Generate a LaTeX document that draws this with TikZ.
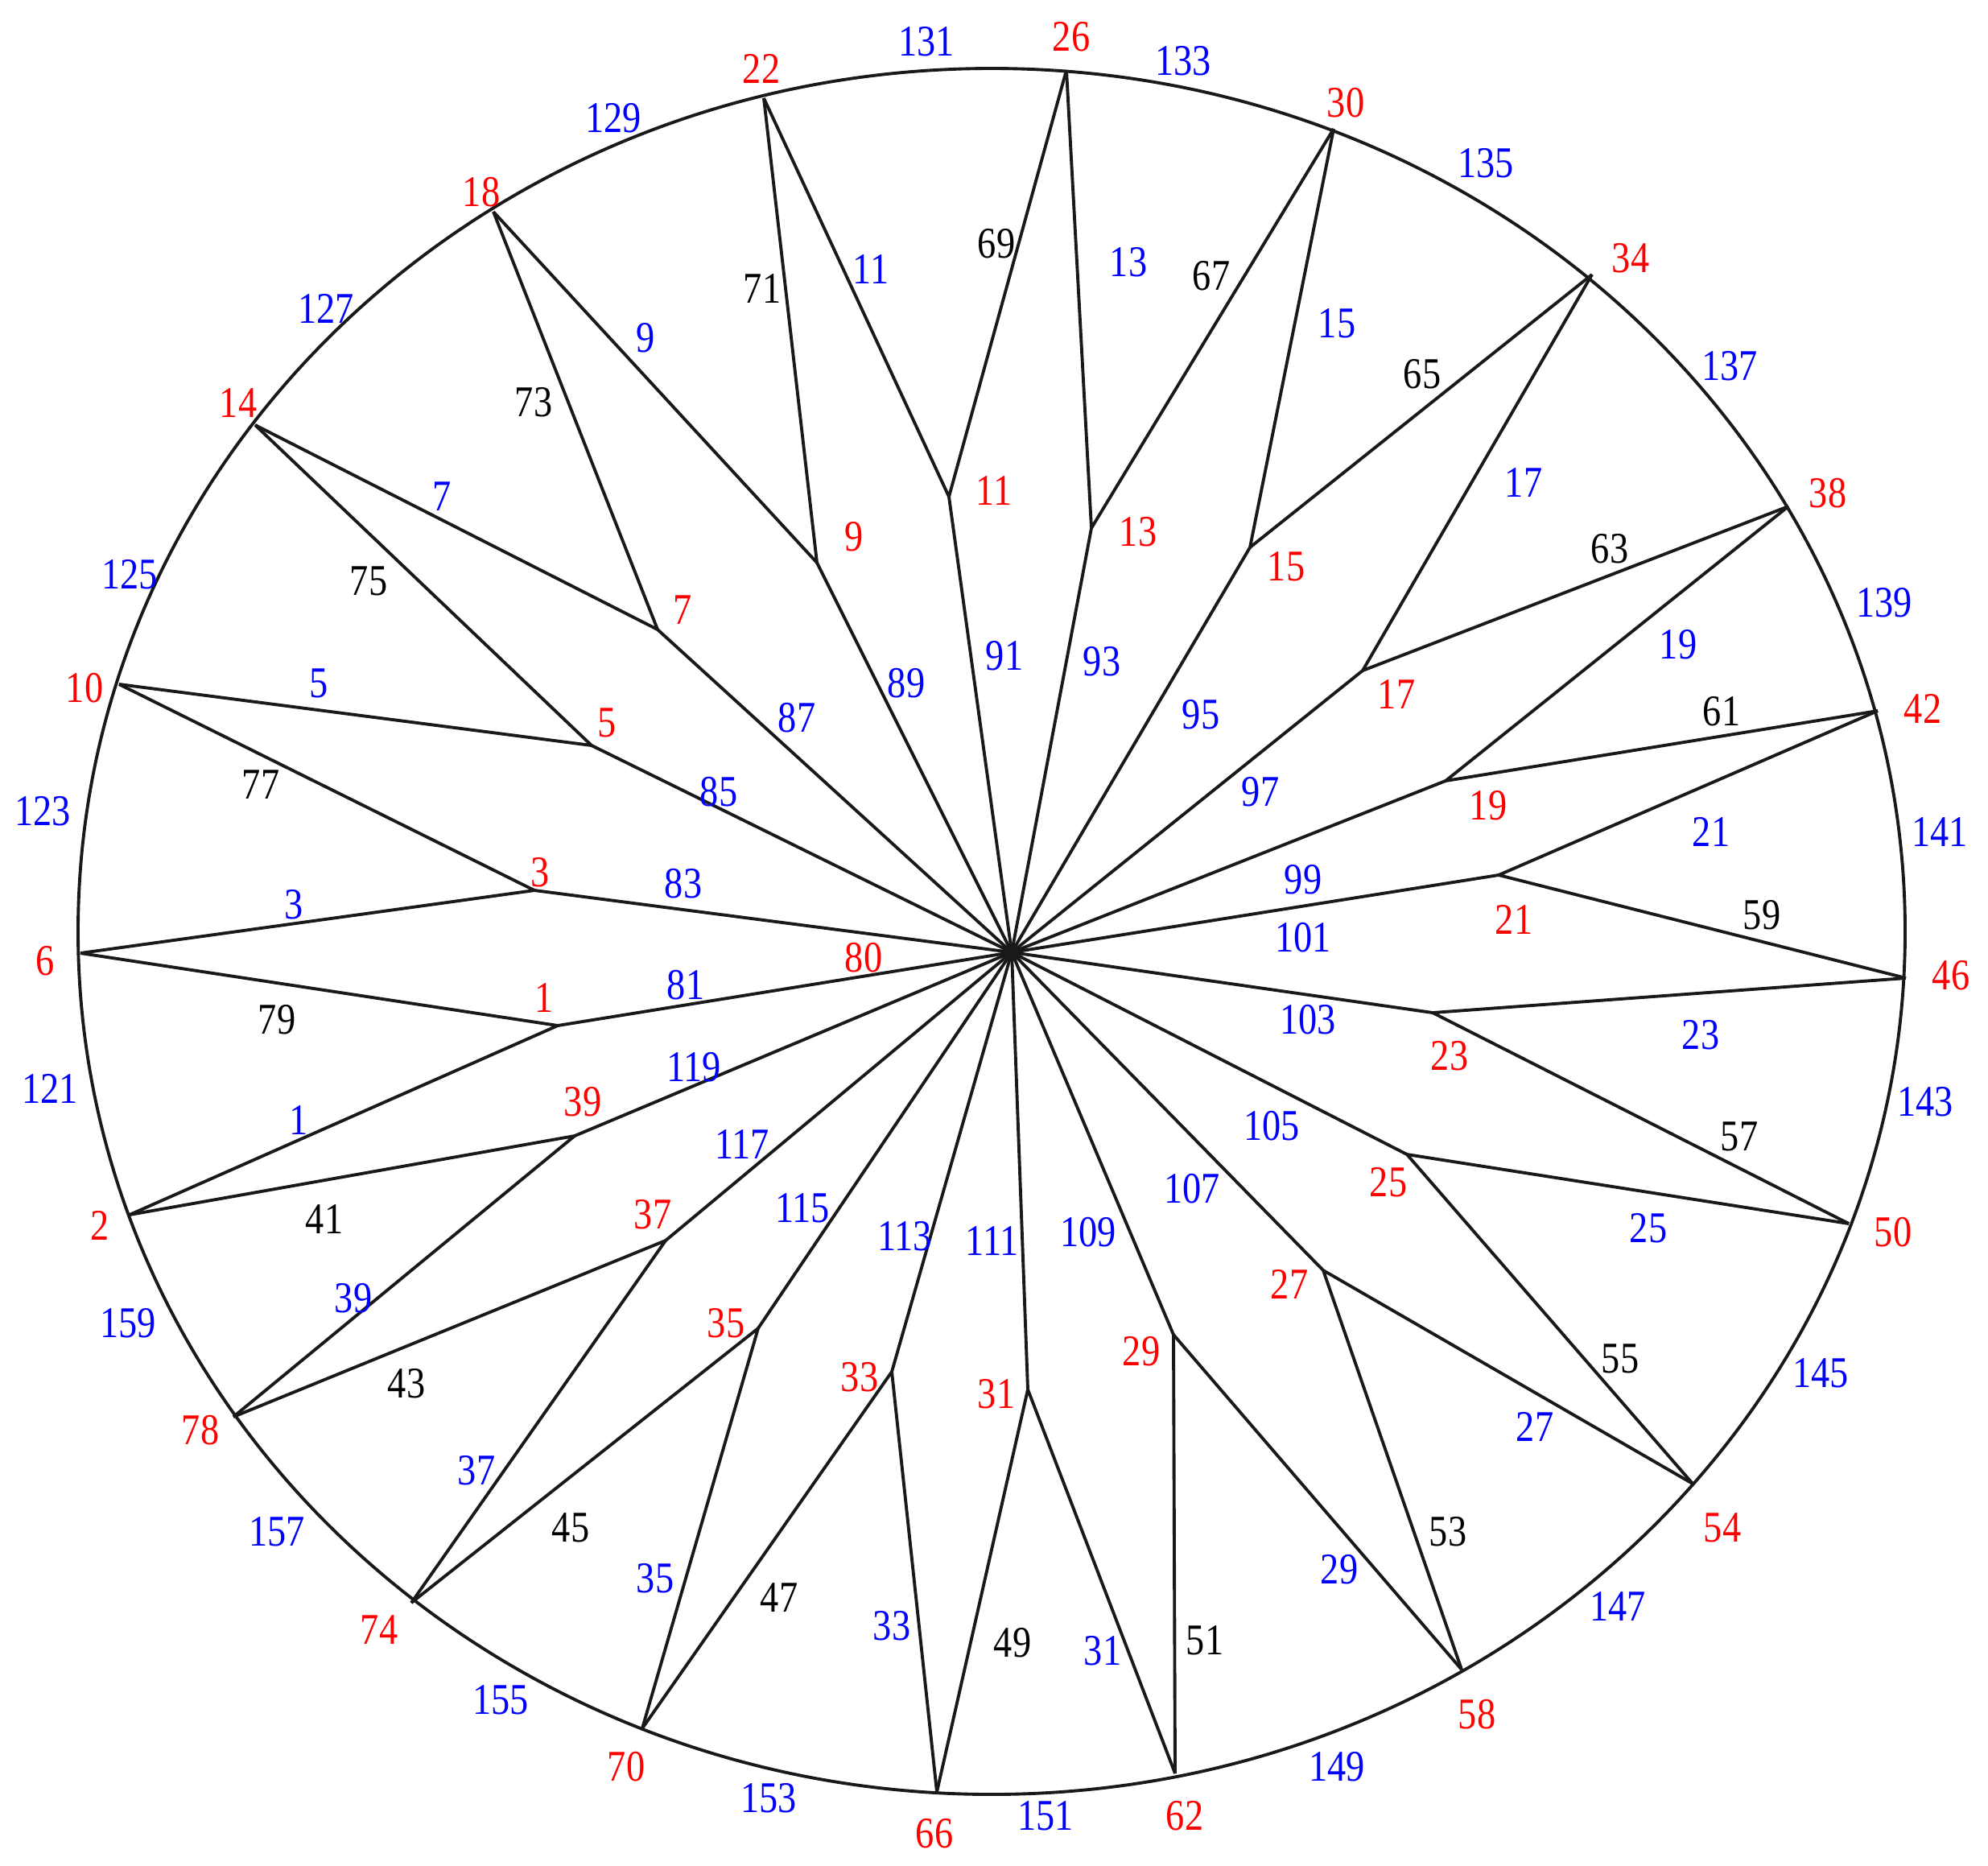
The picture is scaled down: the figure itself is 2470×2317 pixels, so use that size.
\documentclass[tikz,border=0pt]{standalone}
\usepackage{fontspec}
\setmainfont{Liberation Serif}[FakeStretch=0.85]

\tikzstyle{vtx} = [inner sep=0pt, text=red]
\tikzstyle{blab} = [inner sep=0pt, text=blue]
\tikzstyle{klab} = [inner sep=0pt, text=black]
\tikzstyle{edge} = [draw=black!90, line width=1.1pt]

\begin{document}
\begin{tikzpicture}[x=0.01cm,y=-0.01cm,font=\fontsize{15.5}{18}\selectfont]
            \useasboundingbox (0,0) rectangle (2470,2317);
            %
            % We start by placing the vertices
            \coordinate (c) at (1257,1183);
            \foreach \nm/\x/\y in {2/161/1509, 6/100/1184, 10/148/850, 14/317/528, 18/613/263,
                22/949/122, 26/1325/87, 30/1657/160, 34/1978/341, 38/2222/629,
                42/2333/883, 46/2368/1215, 50/2297/1520, 54/2103/1843, 58/1816/2074,
                62/1460/2203, 66/1164/2226, 70/798/2147, 74/511/1991, 78/290/1760}
                \coordinate (o\nm) at (\x,\y);
            \foreach \nm/\x/\y in {1/693/1274, 3/664/1106, 5/735/926, 7/817/782, 9/1015/699,
                11/1179/617, 13/1356/656, 15/1553/680, 17/1693/833, 19/1796/970,
                21/1862/1087, 23/1780/1258, 25/1748/1434, 27/1644/1578, 29/1458/1658,
                31/1277/1726, 33/1108/1704, 35/942/1650, 37/827/1541, 39/714/1411}
                \coordinate (i\nm) at (\x,\y);
            %
            % The outer ring, the spokes and the zigzag
            \draw[edge] (1232,1157) ellipse [x radius=1135, y radius=1072];
            \foreach \k in {1,3,...,39}
                \draw[edge] (c) -- (i\k);
            \foreach \k/\a/\b in {1/2/6, 3/6/10, 5/10/14, 7/14/18, 9/18/22, 11/22/26, 13/26/30,
                15/30/34, 17/34/38, 19/38/42, 21/42/46, 23/46/50, 25/50/54, 27/54/58,
                29/58/62, 31/62/66, 33/66/70, 35/70/74, 37/74/78, 39/78/2}
                \draw[edge] (o\a) -- (i\k) -- (o\b);
            %
            % Vertex numbers
            \node[vtx] (r80) at (1073,1190) {80};
            \foreach \nm/\x/\y in {2/124/1522, 6/56/1194, 10/105/855, 14/296/500, 18/598/239,
                22/946/85, 26/1331/46, 30/1672/128, 34/2026/321, 38/2271/613,
                42/2389/880, 46/2424/1212, 50/2352/1531, 54/2140/1898, 58/1835/2130,
                62/1472/2256, 66/1161/2278, 70/778/2195, 74/471/2025, 78/249/1777,
                1/676/1239, 3/671/1084, 5/754/898, 7/848/758, 9/1061/667,
                11/1235/609, 13/1414/661, 15/1598/704, 17/1735/862, 19/1849/1001,
                21/1881/1142, 23/1801/1312, 25/1725/1469, 27/1602/1595, 29/1418/1679,
                31/1238/1732, 33/1068/1711, 35/902/1644, 37/811/1509, 39/724/1369}
                \node[vtx] (r\nm) at (\x,\y) {\nm};
            %
            % Edge numbers on the spokes
            \foreach \nm/\x/\y in {81/852/1224, 83/849/1098, 85/893/984, 87/990/892, 89/1126/849,
                91/1248/815, 93/1369/822, 95/1492/888, 97/1566/984, 99/1619/1093,
                101/1619/1165, 103/1625/1267, 105/1580/1399, 107/1481/1477, 109/1352/1531,
                111/1233/1541, 113/1124/1536, 115/997/1501, 117/922/1421, 119/862/1326}
                \node[blab] (s\nm) at (\x,\y) {\nm};
            %
            % Edge numbers on the zigzag
            \foreach \nm/\x/\y in {1/371/1391, 3/365/1124, 5/396/849, 7/549/617, 9/802/420,
                11/1082/334, 13/1402/326, 15/1661/402, 17/1893/599, 19/2085/801,
                21/2126/1033, 23/2113/1286, 25/2048/1526, 27/1907/1772, 29/1664/1950,
                31/1370/2051, 33/1108/2020, 35/814/1961, 37/592/1827, 39/439/1613}
                \node[blab] (b\nm) at (\x,\y) {\nm};
            \foreach \nm/\x/\y in {41/403/1514, 43/505/1719, 45/709/1898, 47/968/1985, 49/1258/2041,
                51/1497/2038, 53/1799/1903, 55/2013/1688, 57/2161/1412, 59/2189/1137,
                61/2139/884, 63/2000/682, 65/1767/465, 67/1505/343, 69/1238/303,
                71/947/358, 73/663/500, 75/458/722, 77/324/975, 79/344/1267}
                \node[klab] (k\nm) at (\x,\y) {\nm};
            %
            % Edge numbers on the ring
            \foreach \nm/\x/\y in {121/62/1352, 123/53/1008, 125/161/714, 127/405/383, 129/762/147,
                131/1151/52, 133/1470/76, 135/1846/203, 137/2149/455, 139/2341/749,
                141/2410/1033, 143/2392/1369, 145/2262/1706, 147/2010/1995, 149/1661/2195,
                151/1299/2256, 153/955/2234, 155/622/2112, 157/344/1903, 159/159/1644}
                \node[blab] (a\nm) at (\x,\y) {\nm};
            %
        \end{tikzpicture}
\end{document}
